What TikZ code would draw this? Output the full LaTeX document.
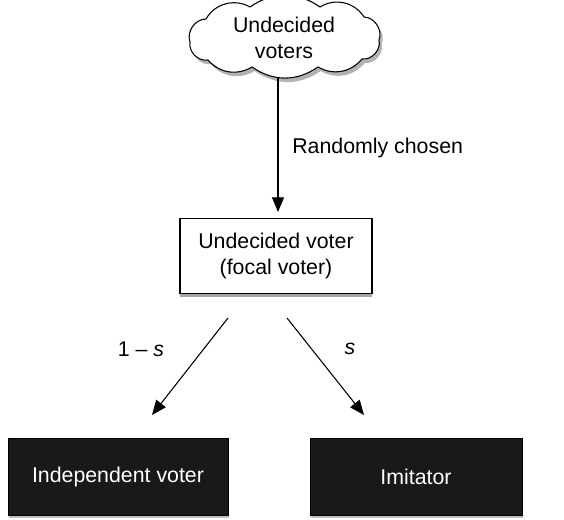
\documentclass[tikz,border=0pt]{standalone}
\usepackage{fontspec}
\setmainfont{Liberation Sans}
\usetikzlibrary{arrows.meta,shadows}
\begin{document}
\begin{tikzpicture}[x=0.75pt,y=-0.75pt,
  every node/.style={font=\fontsize{16}{19.5}\selectfont, align=center, inner sep=0pt},
  whitebox/.style={draw=black, line width=0.8pt, fill=white, minimum width=144pt, minimum height=56pt,
    drop shadow={shadow xshift=0pt, shadow yshift=-3pt, fill=black, opacity=0.35}},
  blackbox/.style={draw=black, fill=black!90, text=white, minimum height=58pt,
    drop shadow={shadow xshift=1pt, shadow yshift=-2pt, fill=black, opacity=0.25}},
  cloudshape/.style={draw=black, line width=0.8pt, fill=white,
    drop shadow={shadow xshift=2pt, shadow yshift=-3pt, fill=black, opacity=0.3}},
  arr/.style={-{Triangle[length=11pt,width=9pt]}, line width=0.8pt}
]
\useasboundingbox (0,0) rectangle (564,520);
\path[cloudshape] (190,42) to[bend left=55] (206,19) to[bend left=45] (250,7)
  to[bend left=35] (320,7) to[bend left=45] (364,17) to[bend left=55] (379,40)
  to[bend left=55] (362,59) to[bend left=40] (318,67) to[bend left=35] (252,67)
  to[bend left=40] (208,60) to[bend left=55] cycle;
\node (cloud) at (284,38) {Undecided\\voters};
\node[whitebox] (focal) at (276,256) {Undecided voter\\(focal voter)};
\node[blackbox, minimum width=165pt] (indep) at (118,477) {Independent voter};
\node[blackbox, minimum width=159pt] (imit) at (416,477) {Imitator};
\coordinate (a1) at (278,77);
\coordinate (a2) at (278,212);
\draw[arr] (a1) -- (a2);
\node[anchor=west] (rc) at (292,148) {Randomly chosen};
\coordinate (l1) at (228,318);
\coordinate (l2) at (152,415);
\coordinate (r1) at (287,318);
\coordinate (r2) at (364,415);
\draw[arr] (l1) -- (l2);
\draw[arr] (r1) -- (r2);
\node (ls) at (141,349) {1 -- \textit{s}};
\node (rs) at (350,349) {\textit{s}};
\end{tikzpicture}
\end{document}
